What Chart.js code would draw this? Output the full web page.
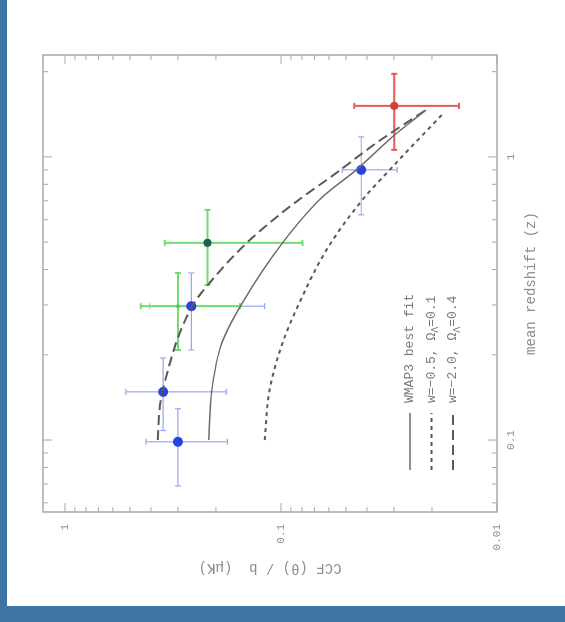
<!DOCTYPE html>
<html>
<head>
<meta charset="utf-8">
<script src="https://cdn.jsdelivr.net/npm/chart.js@4.4.1/dist/chart.umd.min.js"></script>
<style>
  html, body { margin: 0; padding: 0; }
  body { width: 565px; height: 622px; background: #3e74a6; position: relative; overflow: hidden; }
  #sheet { position: absolute; left: 7px; top: 0; width: 558px; height: 606px; background: #fff; }
  #wrap { position: absolute; left: 0; top: 0; width: 622px; height: 565px; transform-origin: 0 0; transform: translateY(622px) rotate(-90deg); }
  #ccfChart { filter: blur(0.5px); }
</style>
</head>
<body>
<div id="sheet"></div>
<div id="wrap"><canvas id="ccfChart" width="622" height="565"></canvas></div>
<script>
// tick labels
const zTicks = [0.1, 1];
const ccfTicks = [0.01, 0.1, 1];

// blue sample: mean redshift, CCF/b and the bar limits
const blueZ = [0.0986, 0.148, 0.297, 0.90];
const blueCcf = [0.300, 0.351, 0.260, 0.0425];
const blueZLo = [0.0688, 0.108, 0.208, 0.624];
const blueZHi = [0.129, 0.195, 0.389, 1.177];
const blueCcfLo = [0.177, 0.179, 0.119, 0.0290];
const blueCcfHi = [0.422, 0.523, 0.405, 0.0520];

// green sample
const greenZ = [0.297, 0.497];
const greenCcf = [0.300, 0.219];
const greenZLo = [0.208, 0.353];
const greenZHi = [0.389, 0.650];
const greenCcfLo = [0.155, 0.0796];
const greenCcfHi = [0.446, 0.345];

// red sample
const redZ = [1.514];
const redCcf = [0.0299];
const redZLo = [1.059];
const redZHi = [1.965];
const redCcfLo = [0.0150];
const redCcfHi = [0.0458];

// model curves
const fitZ = [0.1, 0.15, 0.22, 0.305, 0.497, 0.722, 0.90, 1.177, 1.466];
const fitCcf = [0.216, 0.209, 0.188, 0.151, 0.0984, 0.0643, 0.0448, 0.0305, 0.0213];
const lowZ = [0.1, 0.15, 0.22, 0.305, 0.469, 0.705, 0.952, 1.407];
const lowCcf = [0.119, 0.113, 0.0984, 0.0822, 0.0616, 0.0420, 0.0293, 0.0180];
const highZ = [0.1, 0.131, 0.15, 0.295, 0.359, 0.497, 0.666, 0.878, 1.12, 1.466];
const highCcf = [0.372, 0.364, 0.353, 0.259, 0.214, 0.144, 0.0914, 0.0554, 0.0362, 0.0213];

const pts = (xs, ys) => xs.map((x, i) => ({ x: x, y: ys[i] }));

function logTicks(min, max) {
    const out = [];
    for (let e = Math.floor(Math.log10(min)); e <= Math.ceil(Math.log10(max)); e++) {
        for (let m = 1; m <= 9; m++) {
            const v = Number((m * Math.pow(10, e)).toPrecision(6));
            if (v >= min * 0.9999 && v <= max * 1.0001) out.push({ value: v, major: m === 1 });
        }
    }
    return out;
}

const near = (list, v) => list.some(t => Math.abs(t - v) / t < 1e-6);

const gray = '#8c8c8c';

const errorBars = {
    id: 'errorBars',
    beforeDatasetsDraw(chart) {
        const { ctx, scales: { x, y } } = chart;
        ctx.save();
        chart.data.datasets.forEach(ds => {
            if (!ds.err) return;
            ctx.strokeStyle = ds.err.color;
            ctx.lineWidth = ds.err.width;
            ds.data.forEach((p, i) => {
                const px = x.getPixelForValue(p.x), py = y.getPixelForValue(p.y);
                const x0 = x.getPixelForValue(ds.err.zLo[i]), x1 = x.getPixelForValue(ds.err.zHi[i]);
                const y0 = y.getPixelForValue(ds.err.ccfLo[i]), y1 = y.getPixelForValue(ds.err.ccfHi[i]);
                const c = 3;
                ctx.beginPath();
                ctx.moveTo(x0, py); ctx.lineTo(x1, py);
                ctx.moveTo(x0, py - c); ctx.lineTo(x0, py + c);
                ctx.moveTo(x1, py - c); ctx.lineTo(x1, py + c);
                ctx.moveTo(px, y0); ctx.lineTo(px, y1);
                ctx.moveTo(px - c, y0); ctx.lineTo(px + c, y0);
                ctx.moveTo(px - c, y1); ctx.lineTo(px + c, y1);
                ctx.stroke();
            });
        });
        ctx.restore();
    }
};

function drawRich(ctx, text, x, y) {
    // "_" marks a one-letter subscript
    const parts = text.split('_');
    let cx = x;
    parts.forEach((part, i) => {
        if (i > 0) {
            ctx.font = "10px 'Liberation Mono', monospace";
            ctx.fillText(part[0], cx, y + 4);
            cx += ctx.measureText(part[0]).width;
            part = part.slice(1);
        }
        ctx.font = "13px 'Liberation Mono', monospace";
        ctx.fillText(part, cx, y);
        cx += ctx.measureText(part).width;
    });
}

const frame = {
    id: 'frame',
    afterDraw(chart) {
        const { ctx, chartArea: a, scales: { x, y } } = chart;
        ctx.save();
        ctx.strokeStyle = '#a8a8a8';
        ctx.lineWidth = 1.5;
        ctx.strokeRect(a.left, a.top, a.right - a.left, a.bottom - a.top);
        ctx.lineWidth = 1;
        ctx.beginPath();
        x.ticks.forEach(t => {
            const p = x.getPixelForValue(t.value), len = t.major ? 9 : 5;
            ctx.moveTo(p, a.bottom); ctx.lineTo(p, a.bottom - len);
            ctx.moveTo(p, a.top); ctx.lineTo(p, a.top + len);
        });
        y.ticks.forEach(t => {
            const p = y.getPixelForValue(t.value), len = t.major ? 9 : 5;
            ctx.moveTo(a.left, p); ctx.lineTo(a.left + len, p);
            ctx.moveTo(a.right, p); ctx.lineTo(a.right - len, p);
        });
        ctx.stroke();

        // legend in the lower left of the frame
        const rows = chart.data.datasets.filter(ds => ds.showLine);
        rows.forEach((ds, i) => {
            const ry = a.bottom - 87 + i * 21.5;
            ctx.strokeStyle = ds.borderColor;
            ctx.lineWidth = ds.borderWidth;
            ctx.setLineDash(ds.borderDash || []);
            ctx.beginPath();
            ctx.moveTo(a.left + 42, ry); ctx.lineTo(a.left + 99, ry);
            ctx.stroke();
            ctx.setLineDash([]);
            ctx.fillStyle = '#7a7a7a';
            ctx.textBaseline = 'middle';
            drawRich(ctx, ds.label, a.left + 109, ry);
        });
        ctx.restore();
    }
};

Chart.defaults.font.family = "'Liberation Mono', 'DejaVu Sans Mono', monospace";
Chart.defaults.color = gray;

new Chart(document.getElementById('ccfChart'), {
    type: 'scatter',
    data: {
        datasets: [
            { label: 'WMAP3 best fit', data: pts(fitZ, fitCcf), showLine: true, borderColor: '#6a6a6a', borderWidth: 1.5, pointRadius: 0, cubicInterpolationMode: 'monotone' },
            { label: 'w=\u22120.5, \u03A9_\u039B=0.1', data: pts(lowZ, lowCcf), showLine: true, borderColor: '#5a5a5a', borderWidth: 2, borderDash: [4, 4], pointRadius: 0, cubicInterpolationMode: 'monotone' },
            { label: 'w=\u22122.0, \u03A9_\u039B=0.4', data: pts(highZ, highCcf), showLine: true, borderColor: '#5a5a5a', borderWidth: 2, borderDash: [10, 5], pointRadius: 0, cubicInterpolationMode: 'monotone' },
            { label: 'blue', data: pts(blueZ, blueCcf), pointRadius: 5, pointBackgroundColor: '#2343e6', pointBorderWidth: 0,
              err: { zLo: blueZLo, zHi: blueZHi, ccfLo: blueCcfLo, ccfHi: blueCcfHi, color: '#9aa8f2', width: 1.2 } },
            { label: 'green', data: pts(greenZ, greenCcf), pointRadius: [2, 4], pointBackgroundColor: ['#4fcf4f', '#1f5c5a'], pointBorderWidth: 0,
              err: { zLo: greenZLo, zHi: greenZHi, ccfLo: greenCcfLo, ccfHi: greenCcfHi, color: '#72dd6e', width: 2 } },
            { label: 'red', data: pts(redZ, redCcf), pointRadius: 4, pointBackgroundColor: '#d93b3b', pointBorderWidth: 0,
              err: { zLo: redZLo, zHi: redZHi, ccfLo: redCcfLo, ccfHi: redCcfHi, color: '#e25a5a', width: 2 } }
        ]
    },
    options: {
        responsive: false,
        animation: false,
        events: [],
        layout: { padding: { top: 43, right: 55, left: 0, bottom: 0 } },
        plugins: { legend: { display: false }, tooltip: { enabled: false } },
        scales: {
            x: {
                type: 'logarithmic', min: 0.0557, max: 2.29,
                grid: { display: false, drawTicks: false }, border: { display: false },
                afterBuildTicks: s => { s.ticks = logTicks(s.min, s.max); },
                afterFit: s => { s.height = 68; },
                ticks: { autoSkip: false, maxRotation: 0, padding: 7, font: { size: 11 },
                         callback: v => near(zTicks, v) ? String(v) : '' },
                title: { display: true, text: 'mean redshift (z)', font: { size: 14 }, padding: { top: 0, bottom: 25 } }
            },
            y: {
                type: 'logarithmic', min: 0.01, max: 1.264,
                grid: { display: false, drawTicks: false }, border: { display: false },
                afterBuildTicks: s => { s.ticks = logTicks(s.min, s.max); },
                afterFit: s => { s.width = 110; },
                ticks: { autoSkip: false, padding: 12, font: { size: 11 },
                         callback: v => near(ccfTicks, v) ? String(v) : '' },
                title: { display: true, text: 'CCF (\u03B8) / b  (\u03BCK)', font: { size: 14 }, padding: { top: 46, bottom: 0 } }
            }
        }
    },
    plugins: [errorBars, frame]
});
</script>
</body>
</html>
